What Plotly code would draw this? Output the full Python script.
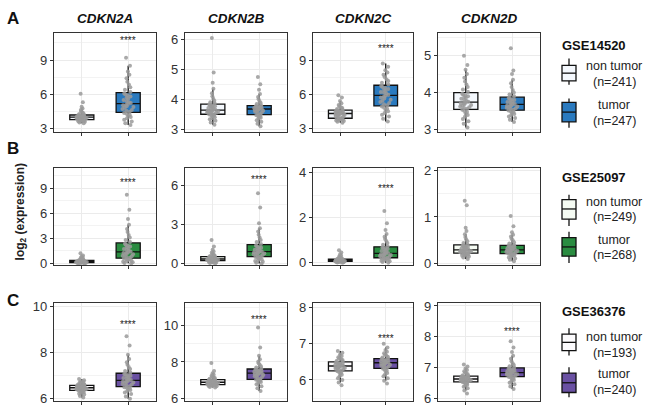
import plotly.graph_objects as go

# ---------------- data ----------------
genes = ["CDKN2A", "CDKN2B", "CDKN2C", "CDKN2D"]
datasets = ["GSE14520", "GSE25097", "GSE36376"]
groups = ["non tumor", "tumor"]
group_n = {"GSE14520": [241, 247], "GSE25097": [249, 268], "GSE36376": [193, 240]}
significance = {"GSE14520": ["****", "", "****", ""],
                "GSE25097": ["****", "****", "****", ""],
                "GSE36376": ["****", "****", "****", "****"]}

# GSE14520
gse14520_cdkn2a_non = [3.45,3.52,3.58,3.62,3.65,3.68,3.70,3.72,3.74,3.75,3.78,3.82,3.85,3.88,3.90,3.92,3.94,3.95,3.96,3.97,
                       3.99,4.01,4.03,4.05,4.07,4.09,4.11,4.12,4.14,4.15,4.2,4.26,4.33,4.4,4.5,4.62,4.75,4.9,5.3,6.05]
gse14520_cdkn2a_tum = [3.3,3.45,3.6,3.75,3.9,4.0,4.1,4.2,4.28,4.35,4.45,4.55,4.62,4.7,4.8,4.88,4.95,5.02,5.08,5.14,
                       5.22,5.3,5.4,5.5,5.6,5.7,5.8,5.9,6.0,6.06,6.2,6.4,6.6,6.85,7.1,7.4,7.7,8.0,8.5,9.2]
gse14520_cdkn2b_non = [3.15,3.22,3.28,3.33,3.37,3.4,3.43,3.45,3.47,3.49,3.51,3.53,3.55,3.56,3.58,3.59,3.6,3.61,3.62,3.63,
                       3.65,3.67,3.69,3.71,3.73,3.75,3.77,3.79,3.8,3.82,3.86,3.9,3.95,4.02,4.1,4.2,4.35,4.55,4.9,6.05]
gse14520_cdkn2b_tum = [3.1,3.18,3.25,3.3,3.35,3.38,3.41,3.43,3.45,3.47,3.5,3.53,3.56,3.58,3.6,3.62,3.63,3.64,3.66,3.67,
                       3.68,3.69,3.7,3.71,3.72,3.73,3.74,3.75,3.76,3.77,3.8,3.84,3.88,3.93,4.0,4.08,4.18,4.32,4.5,4.75]
gse14520_cdkn2c_non = [3.5,3.58,3.64,3.7,3.74,3.77,3.8,3.82,3.84,3.86,3.92,3.98,4.04,4.1,4.15,4.19,4.22,4.25,4.27,4.29,
                       4.32,4.35,4.38,4.41,4.44,4.47,4.5,4.53,4.56,4.58,4.63,4.7,4.78,4.86,4.95,5.05,5.2,5.4,5.7,5.9]
gse14520_cdkn2c_tum = [3.6,3.85,4.05,4.2,4.35,4.5,4.62,4.72,4.82,4.92,5.02,5.12,5.22,5.32,5.42,5.52,5.62,5.7,5.78,5.86,
                       5.95,6.04,6.12,6.2,6.28,6.36,6.45,6.54,6.63,6.72,6.85,7.0,7.15,7.3,7.5,7.7,7.9,8.1,8.4,8.7]
gse14520_cdkn2d_non = [3.05,3.15,3.22,3.28,3.34,3.39,3.43,3.47,3.5,3.53,3.56,3.58,3.6,3.62,3.64,3.66,3.68,3.7,3.71,3.73,
                       3.75,3.77,3.8,3.83,3.85,3.88,3.9,3.92,3.95,3.97,4.02,4.08,4.15,4.22,4.3,4.4,4.5,4.62,4.75,5.0]
gse14520_cdkn2d_tum = [3.2,3.26,3.31,3.35,3.39,3.42,3.45,3.47,3.49,3.51,3.53,3.55,3.57,3.59,3.6,3.62,3.63,3.64,3.66,3.67,
                       3.69,3.7,3.72,3.74,3.76,3.78,3.8,3.82,3.83,3.85,3.9,3.95,4.0,4.07,4.15,4.25,4.35,4.5,4.6,5.2]

# GSE25097
gse25097_cdkn2a_non = [0.0,0.02,0.04,0.05,0.06,0.07,0.08,0.09,0.1,0.1,0.11,0.12,0.13,0.14,0.15,0.16,0.17,0.18,0.19,0.2,
                       0.21,0.22,0.23,0.24,0.25,0.26,0.28,0.3,0.31,0.33,0.36,0.4,0.45,0.5,0.56,0.63,0.72,0.82,0.95,1.2]
gse25097_cdkn2a_tum = [0.0,0.05,0.12,0.2,0.28,0.35,0.42,0.48,0.53,0.58,0.66,0.75,0.84,0.92,1.0,1.08,1.16,1.23,1.28,1.33,
                       1.42,1.52,1.62,1.72,1.82,1.92,2.02,2.12,2.22,2.33,2.55,2.8,3.1,3.4,3.75,4.1,4.6,5.3,6.4,8.2]
gse25097_cdkn2b_non = [0.0,0.03,0.06,0.09,0.11,0.13,0.15,0.17,0.19,0.2,0.22,0.24,0.25,0.27,0.28,0.29,0.3,0.31,0.32,0.33,
                       0.35,0.37,0.38,0.4,0.42,0.43,0.45,0.47,0.48,0.5,0.53,0.57,0.62,0.68,0.75,0.83,0.92,1.05,1.3,1.8]
gse25097_cdkn2b_tum = [0.0,0.05,0.12,0.18,0.24,0.3,0.36,0.41,0.46,0.5,0.55,0.6,0.65,0.7,0.74,0.77,0.8,0.83,0.86,0.88,
                       0.92,0.96,1.0,1.05,1.1,1.15,1.2,1.25,1.32,1.38,1.5,1.65,1.8,2.0,2.2,2.45,2.7,3.1,4.3,5.4]
gse25097_cdkn2c_non = [0.0,0.01,0.02,0.03,0.03,0.04,0.04,0.05,0.05,0.05,0.06,0.06,0.07,0.07,0.08,0.08,0.09,0.09,0.1,0.1,
                       0.11,0.11,0.12,0.12,0.13,0.13,0.14,0.14,0.15,0.15,0.16,0.18,0.2,0.22,0.25,0.28,0.32,0.38,0.45,0.55]
gse25097_cdkn2c_tum = [0.0,0.03,0.06,0.09,0.12,0.14,0.16,0.18,0.2,0.21,0.23,0.25,0.28,0.3,0.32,0.34,0.36,0.37,0.39,0.4,
                       0.43,0.46,0.49,0.52,0.55,0.58,0.61,0.64,0.66,0.68,0.73,0.8,0.88,0.96,1.05,1.15,1.28,1.45,1.75,2.3]
gse25097_cdkn2d_non = [0.1,0.13,0.15,0.17,0.18,0.19,0.2,0.21,0.21,0.22,0.23,0.24,0.25,0.25,0.26,0.27,0.27,0.28,0.28,0.29,
                       0.3,0.31,0.32,0.33,0.34,0.35,0.36,0.37,0.38,0.39,0.41,0.44,0.48,0.52,0.57,0.63,0.7,0.77,1.25,1.35]
gse25097_cdkn2d_tum = [0.05,0.08,0.11,0.13,0.15,0.17,0.18,0.19,0.2,0.21,0.22,0.23,0.24,0.25,0.26,0.27,0.27,0.28,0.28,0.29,
                       0.3,0.31,0.32,0.33,0.34,0.35,0.36,0.37,0.37,0.38,0.4,0.43,0.46,0.5,0.54,0.58,0.62,0.67,0.8,1.02]

# GSE36376
gse36376_cdkn2a_non = [6.05,6.12,6.18,6.22,6.25,6.28,6.3,6.32,6.34,6.35,6.37,6.38,6.4,6.41,6.42,6.43,6.44,6.45,6.46,6.47,
                       6.48,6.49,6.5,6.51,6.52,6.53,6.54,6.55,6.56,6.57,6.59,6.61,6.63,6.65,6.68,6.7,6.73,6.76,6.8,6.85]
gse36376_cdkn2a_tum = [6.0,6.1,6.2,6.27,6.33,6.38,6.42,6.45,6.48,6.5,6.54,6.58,6.61,6.64,6.67,6.7,6.72,6.74,6.76,6.78,
                       6.81,6.84,6.87,6.9,6.93,6.96,6.99,7.02,7.05,7.07,7.13,7.2,7.28,7.37,7.47,7.58,7.72,7.9,8.3,8.7]
gse36376_cdkn2b_non = [6.6,6.63,6.66,6.68,6.7,6.71,6.72,6.73,6.74,6.75,6.77,6.78,6.8,6.81,6.82,6.84,6.85,6.86,6.87,6.88,
                       6.89,6.9,6.92,6.93,6.94,6.96,6.97,6.99,7.0,7.02,7.05,7.08,7.12,7.16,7.2,7.25,7.3,7.38,7.5,7.95]
gse36376_cdkn2b_tum = [6.4,6.55,6.67,6.77,6.85,6.9,6.95,6.98,7.0,7.02,7.07,7.12,7.17,7.21,7.25,7.28,7.31,7.34,7.36,7.38,
                       7.4,7.42,7.44,7.46,7.48,7.5,7.52,7.54,7.57,7.59,7.64,7.7,7.77,7.85,7.93,8.02,8.15,8.35,8.8,9.9]
gse36376_cdkn2c_non = [5.85,5.93,6.0,6.05,6.1,6.14,6.17,6.2,6.22,6.24,6.26,6.28,6.3,6.31,6.32,6.33,6.35,6.36,6.37,6.38,
                       6.39,6.4,6.41,6.42,6.43,6.44,6.45,6.46,6.47,6.49,6.51,6.53,6.55,6.58,6.6,6.63,6.66,6.7,6.75,6.8]
gse36376_cdkn2c_tum = [5.9,5.98,6.05,6.1,6.15,6.19,6.23,6.26,6.29,6.31,6.33,6.35,6.37,6.39,6.41,6.42,6.43,6.45,6.46,6.47,
                       6.48,6.49,6.5,6.51,6.52,6.53,6.54,6.55,6.57,6.58,6.6,6.62,6.64,6.67,6.7,6.74,6.78,6.83,6.9,7.0]
gse36376_cdkn2d_non = [6.15,6.25,6.32,6.37,6.41,6.44,6.47,6.49,6.51,6.52,6.54,6.55,6.56,6.57,6.58,6.59,6.6,6.61,6.61,6.62,
                       6.63,6.64,6.65,6.66,6.67,6.67,6.68,6.69,6.7,6.71,6.73,6.75,6.78,6.81,6.84,6.88,6.92,6.97,7.03,7.1]
gse36376_cdkn2d_tum = [6.3,6.38,6.45,6.5,6.55,6.59,6.62,6.65,6.67,6.69,6.71,6.73,6.75,6.76,6.77,6.78,6.79,6.8,6.82,6.83,
                       6.84,6.86,6.87,6.88,6.9,6.91,6.92,6.94,6.95,6.97,7.0,7.04,7.08,7.13,7.2,7.28,7.38,7.5,7.65,7.85]

values = {
    ("GSE14520", "CDKN2A"): (gse14520_cdkn2a_non, gse14520_cdkn2a_tum),
    ("GSE14520", "CDKN2B"): (gse14520_cdkn2b_non, gse14520_cdkn2b_tum),
    ("GSE14520", "CDKN2C"): (gse14520_cdkn2c_non, gse14520_cdkn2c_tum),
    ("GSE14520", "CDKN2D"): (gse14520_cdkn2d_non, gse14520_cdkn2d_tum),
    ("GSE25097", "CDKN2A"): (gse25097_cdkn2a_non, gse25097_cdkn2a_tum),
    ("GSE25097", "CDKN2B"): (gse25097_cdkn2b_non, gse25097_cdkn2b_tum),
    ("GSE25097", "CDKN2C"): (gse25097_cdkn2c_non, gse25097_cdkn2c_tum),
    ("GSE25097", "CDKN2D"): (gse25097_cdkn2d_non, gse25097_cdkn2d_tum),
    ("GSE36376", "CDKN2A"): (gse36376_cdkn2a_non, gse36376_cdkn2a_tum),
    ("GSE36376", "CDKN2B"): (gse36376_cdkn2b_non, gse36376_cdkn2b_tum),
    ("GSE36376", "CDKN2C"): (gse36376_cdkn2c_non, gse36376_cdkn2c_tum),
    ("GSE36376", "CDKN2D"): (gse36376_cdkn2d_non, gse36376_cdkn2d_tum),
}

# ---------------- styling / layout ----------------
W, H = 651, 417
FONT = "Liberation Sans, Arial, Helvetica, sans-serif"
tumor_colors = ["#2A7ABF", "#2A8C41", "#6A51A3"]
normal_colors = ["#F4F8FD", "#F5FBF3", "#FCFBFD"]
point_color = "#9A9A9A"

col_px = [(54, 156), (185, 287), (313, 413), (438, 540)]
row_px = [(29, 130), (167, 267), (306, 407)]

y_ranges = [[(2.72, 11.35), (2.92, 6.21), (2.72, 11.35), (2.94, 5.61)],
            [(-0.19, 11.44), (-0.12, 7.38), (-0.1, 4.23), (-0.03, 2.06)],
            [(5.89, 10.14), (5.84, 11.25), (5.41, 8.13), (5.9, 9.1)]]
y_dtick = [[3, 1, 3, 1], [3, 3, 2, 1], [2, 2, 1, 1]]
star_y = [[10.86, None, 10.2, None], [9.85, 6.6, 3.37, None], [9.3, 10.45, 7.19, 8.24]]


def px_x(x):
    return x / W


def px_y(y):
    return 1 - y / H


def paper_text(x, y, text, size, color="#111111", xanchor="center", angle=0):
    return dict(x=px_x(x), y=px_y(y), xref="paper", yref="paper", text=text, showarrow=False,
                xanchor=xanchor, yanchor="middle", textangle=angle,
                font=dict(size=size, color=color, family=FONT))


fig = go.Figure()
layout = dict(width=W, height=H, margin=dict(l=0, r=0, t=0, b=0), autosize=False,
              paper_bgcolor="white", plot_bgcolor="white", showlegend=False,
              boxmode="overlay", font=dict(family=FONT, color="#333333"))
annotations = []
shapes = []

k = 0
for r, ds in enumerate(datasets):
    for c, gene in enumerate(genes):
        k += 1
        xa = "x" if k == 1 else f"x{k}"
        ya = "y" if k == 1 else f"y{k}"
        non, tum = values[(ds, gene)]
        for gi, (vals, fill) in enumerate([(non, normal_colors[r]), (tum, tumor_colors[r])]):
            fig.add_trace(go.Box(
                y=vals, x0=gi, name=groups[gi], xaxis=xa, yaxis=ya,
                width=0.52, fillcolor=fill,
                line=dict(color="#111111", width=1.3),
                whiskerwidth=0,
                boxpoints="all", jitter=0.5, pointpos=0,
                marker=dict(color=point_color, size=4, opacity=0.85, line=dict(width=0)),
                quartilemethod="linear", showlegend=False,
            ))
        x0, x1 = col_px[c]
        y0, y1 = row_px[r]
        axis_common = dict(showline=True, mirror=True, linecolor="#333333", linewidth=1.2,
                           ticks="outside", ticklen=3, tickwidth=1, tickcolor="#333333",
                           showgrid=True, gridcolor="#EBEBEB", gridwidth=1, zeroline=False,
                           fixedrange=True)
        layout["xaxis" if k == 1 else f"xaxis{k}"] = dict(
            domain=[px_x(x0), px_x(x1)], range=[-0.6, 1.6], type="linear",
            anchor=ya, tickvals=[0, 1], showticklabels=False, **axis_common)
        lo, hi = y_ranges[r][c]
        d = y_dtick[r][c]
        layout["yaxis" if k == 1 else f"yaxis{k}"] = dict(
            domain=[px_y(y1), px_y(y0)], range=[lo, hi], anchor=xa,
            tick0=0, dtick=d, tickfont=dict(size=13, color="#333333", family=FONT),
            minor=dict(tick0=d / 2, dtick=d, showgrid=True, gridcolor="#F3F3F3", gridwidth=0.6, ticklen=0),
            **axis_common)
        if significance[ds][c]:
            annotations.append(dict(x=1, y=star_y[r][c], xref=xa, yref=ya, text=significance[ds][c],
                                    showarrow=False, font=dict(size=10, color="#222222", family=FONT),
                                    xanchor="center", yanchor="middle", yshift=-2))

# gene titles
for c, gene in enumerate(genes):
    x0, x1 = col_px[c]
    annotations.append(paper_text((x0 + x1) / 2, 14, f"<b><i>{gene}</i></b>", 13.5))

# row letters
for letter, yy in zip(["A", "B", "C"], [14, 147, 304]):
    annotations.append(paper_text(13, yy, f"<b>{letter}</b>", 17))

# y-axis title
annotations.append(paper_text(21, 213, "<b>log<sub>2</sub> (expression)</b>", 12, "#222222", angle=-90))

# legends (one per dataset)
legend_pos = [
    dict(t=42, i1=(55, 62, 70, 78, 82), t1=(63, 79), i2=(96, 100, 110, 120, 126), t2=(103, 119)),
    dict(t=177, i1=(195, 200, 209.5, 220, 227), t1=(202, 218), i2=(233, 239, 248.5, 258, 265), t2=(241, 257)),
    dict(t=315, i1=(332, 338, 346.5, 355, 360), t1=(341, 357), i2=(372, 378, 388, 398, 403), t2=(379, 395)),
]
icon_x0, icon_x1 = 562, 576
icon_xm = (icon_x0 + icon_x1) / 2
for r, ds in enumerate(datasets):
    lp = legend_pos[r]
    annotations.append(paper_text(560, lp["t"], f"<b>{ds}</b>", 13, xanchor="left"))
    for gi, (icon, tl) in enumerate([(lp["i1"], lp["t1"]), (lp["i2"], lp["t2"])]):
        wt, bt, md, bb, wb = icon
        fill = normal_colors[r] if gi == 0 else tumor_colors[r]
        shapes.append(dict(type="line", xref="paper", yref="paper", x0=px_x(icon_xm), x1=px_x(icon_xm),
                           y0=px_y(wt), y1=px_y(wb), line=dict(color="#111111", width=1.3)))
        shapes.append(dict(type="rect", xref="paper", yref="paper", x0=px_x(icon_x0), x1=px_x(icon_x1),
                           y0=px_y(bb), y1=px_y(bt), fillcolor=fill, line=dict(color="#111111", width=1.3)))
        shapes.append(dict(type="line", xref="paper", yref="paper", x0=px_x(icon_x0), x1=px_x(icon_x1),
                           y0=px_y(md), y1=px_y(md), line=dict(color="#111111", width=1.3)))
        for txt, yy in zip([groups[gi], f"(n={group_n[ds][gi]})"], tl):
            annotations.append(paper_text(614, yy, txt, 12.5, "#222222"))

layout["annotations"] = annotations
layout["shapes"] = shapes
fig.update_layout(**layout)
fig.write_html("out.html", config={"displayModeBar": False},
               post_script="document.body.style.margin='0px';document.body.style.padding='0px';")
